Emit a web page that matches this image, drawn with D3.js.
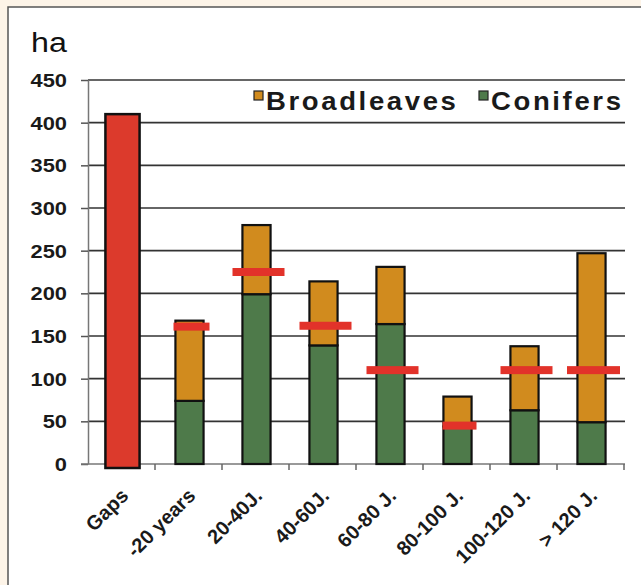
<!DOCTYPE html>
<html>
<head>
<meta charset="utf-8">
<script src="https://cdn.jsdelivr.net/npm/d3@7/dist/d3.min.js"></script>
<style>
  html, body { margin: 0; padding: 0; background: #fdf4e8; }
  svg { display: block; }
  text { font-family: "Liberation Sans", Arial, sans-serif; }
</style>
</head>
<body>
<svg id="chart" width="641" height="585"></svg>
<script>
// ---------------- DATA ----------------
const categories = ["Gaps", "-20 years", "20-40J.", "40-60J.", "60-80 J.", "80-100 J.", "100-120 J.", "> 120 J."];
const gapsArea    = [410, 0, 0, 0, 0, 0, 0, 0];
const conifers    = [0, 74, 199, 139, 164, 44, 63, 49];
const broadleaves = [0, 94, 81, 75, 67, 35, 75, 198];
const targetMark  = [null, 161, 225, 162, 110, 45, 110, 110];
const yTicks      = [0, 50, 100, 150, 200, 250, 300, 350, 400, 450];
const seriesNames = ["Broadleaves", "Conifers"];
const unitLabel   = "ha";

(function () {
// ---------------- STYLE ----------------
const colRed = "#dc3a2c", colMark = "#e2322a", colBroad = "#d18b1e", colCon = "#4e7a4a";
const markWidth = [0, 36, 52, 52, 52, 34, 52, 53];

const svg = d3.select("#chart");
// panel
svg.append("rect").attr("x", 8).attr("y", 7).attr("width", 700).attr("height", 700)
  .attr("fill", "#ffffff").attr("stroke", "#555").attr("stroke-width", 1.5);

const pL = 88, pR = 624, pT = 80, pB = 464;
const x = d3.scaleBand().domain(categories).range([pL, pR]).paddingInner(0).paddingOuter(0);
const y = d3.scaleLinear().domain([0, 450]).range([pB, pT]);

// gridlines
svg.append("g").selectAll("line").data(yTicks.filter(d => d > 0)).join("line")
  .attr("x1", pL).attr("x2", pR + 1)
  .attr("y1", d => y(d)).attr("y2", d => y(d))
  .attr("stroke", "#333").attr("stroke-width", 1.6);

// y axis
const yAxis = svg.append("g").attr("transform", `translate(${pL},0)`)
  .call(d3.axisLeft(y).tickValues(yTicks).tickSize(7).tickPadding(0).tickSizeOuter(0));
yAxis.select(".domain").attr("stroke", "#777").attr("stroke-width", 1.5);
yAxis.selectAll(".tick line").attr("stroke", "#555").attr("stroke-width", 1.5);
yAxis.selectAll(".tick text").remove();
svg.append("g").selectAll("text").data(yTicks).join("text")
  .attr("transform", d => `translate(67,${y(d) + 7}) scale(1.15,1)`)
  .attr("text-anchor", "end")
  .attr("font-size", 19).attr("font-weight", "bold").attr("fill", "#1a1a1a")
  .text(d => d);

// x axis line + ticks at band boundaries
svg.append("line").attr("x1", pL - 7).attr("x2", pR + 1).attr("y1", pB).attr("y2", pB)
  .attr("stroke", "#777").attr("stroke-width", 1.5);
const boundaries = categories.map(c => x(c) + x.bandwidth());
svg.append("g").selectAll("line").data(boundaries).join("line")
  .attr("x1", d => d).attr("x2", d => d).attr("y1", pB).attr("y2", pB + 6)
  .attr("stroke", "#666").attr("stroke-width", 1.5);

const cx = c => x(c) + x.bandwidth() / 2 + 1;
const bw = x.bandwidth() * 0.42;
const gw = x.bandwidth() * 0.51;

// Gaps bar
svg.append("g").selectAll("rect").data(categories.filter((c, i) => gapsArea[i] > 0)).join("rect")
  .attr("x", c => cx(c) - gw / 2)
  .attr("y", c => y(gapsArea[categories.indexOf(c)]))
  .attr("width", gw)
  .attr("height", c => y(0) - y(gapsArea[categories.indexOf(c)]) + 4)
  .attr("fill", colRed).attr("stroke", "#111").attr("stroke-width", 2.5);

// stacked bars
const stackData = categories.map((c, i) => ({ cat: c, Conifers: conifers[i], Broadleaves: broadleaves[i] }))
  .filter(d => d.Conifers + d.Broadleaves > 0);
const stacked = d3.stack().keys(["Conifers", "Broadleaves"])(stackData);
const colorOf = { Conifers: colCon, Broadleaves: colBroad };
svg.append("g").selectAll("g").data(stacked).join("g")
  .attr("fill", d => colorOf[d.key])
  .selectAll("rect").data(d => d).join("rect")
  .attr("x", d => cx(d.data.cat) - bw / 2)
  .attr("y", d => y(d[1]))
  .attr("width", bw)
  .attr("height", d => y(d[0]) - y(d[1]))
  .attr("stroke", "#111").attr("stroke-width", 2.2);

// target markers
svg.append("g").selectAll("rect").data(categories.map((c, i) => ({ c, v: targetMark[i], w: markWidth[i] })).filter(d => d.v != null))
  .join("rect")
  .attr("x", d => cx(d.c) + 2 - d.w / 2)
  .attr("y", d => y(d.v) - 4)
  .attr("width", d => d.w).attr("height", 8)
  .attr("fill", colMark);

// x labels
svg.append("g").selectAll("text").data(categories).join("text")
  .attr("transform", c => `translate(${cx(c) + 7},${pB + 33}) rotate(-45)`)
  .attr("text-anchor", "end")
  .attr("font-size", 20).attr("font-weight", "bold").attr("fill", "#1a1a1a")
  .text(c => c);

// unit label
svg.append("text").attr("transform", "translate(31,52) scale(1.15,1)")
  .attr("font-size", 28).attr("fill", "#111").text(unitLabel);

// legend
const legendPos = [{ sx: 254, tx: 266 }, { sx: 479, tx: 491 }];
const legendCol = [colBroad, colCon];
const lg = svg.append("g").selectAll("g").data(seriesNames).join("g");
lg.append("rect").attr("x", (d, i) => legendPos[i].sx).attr("y", 91).attr("width", 9).attr("height", 9)
  .attr("fill", (d, i) => legendCol[i]).attr("stroke", "#222").attr("stroke-width", 1.2);
lg.append("text").attr("transform", (d, i) => `translate(${legendPos[i].tx},110) scale(1.1,1)`)
  .attr("font-size", 25).attr("font-weight", "bold").attr("letter-spacing", 2.4).attr("fill", "#1a1a1a")
  .text(d => d);
})();
</script>
</body>
</html>
